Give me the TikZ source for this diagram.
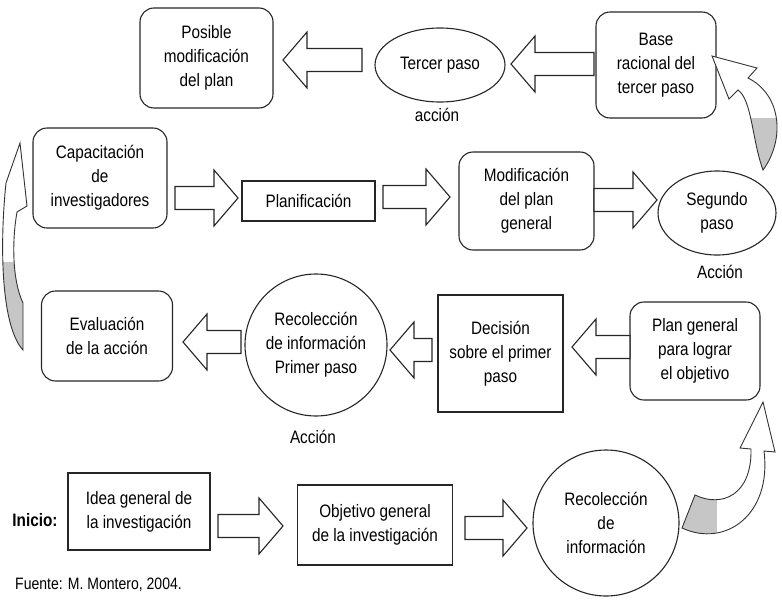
\documentclass[tikz,border=0pt]{standalone}
\usepackage{fontspec}
\setmainfont{Liberation Sans}[FakeStretch=0.85]
\usetikzlibrary{calc,shapes.geometric}
\def\asw{11.5pt}\def\ahw{28pt}\def\ahl{24pt}
\tikzset{
  every node/.style={font=\fontsize{18}{24}\selectfont, align=center, inner sep=2pt},
  rbox/.style={draw=black!85, line width=1.1pt, rounded corners=14pt},
  sbox/.style={draw=black!85, line width=1.1pt},
  ell/.style={draw=black!85, line width=1.1pt, ellipse, inner sep=0pt},
  circ/.style={draw=black!85, line width=1.1pt, circle, inner sep=0pt},
  lbl/.style={inner sep=0pt},
  curved/.style={draw=black!80, line width=0.9pt, line join=miter},
  shadefill/.style={fill=gray!45},
  blockarrow/.style={draw=black!85, line width=1.1pt, fill=white, line join=miter,
    to path={let \p1=(\tikztostart), \p2=(\tikztotarget),
      \n1={veclen(\x2-\x1,\y2-\y1)}, \n2={atan2(\y2-\y1,\x2-\x1)} in
      ($(\p1)+(\n2+90:\asw)$)
      -- ($(\p1)+(\n2:\n1*1pt-\ahl)+(\n2+90:\asw)$)
      -- ($(\p1)+(\n2:\n1*1pt-\ahl)+(\n2+90:\ahw)$)
      -- (\p2)
      -- ($(\p1)+(\n2:\n1*1pt-\ahl)+(\n2-90:\ahw)$)
      -- ($(\p1)+(\n2:\n1*1pt-\ahl)+(\n2-90:\asw)$)
      -- ($(\p1)+(\n2-90:\asw)$) -- cycle}},
}
\def\crA{(763,170) .. controls (785,140) and (782,95) .. (748,78) -- (757,68) -- (712,56)
  -- (729,99) -- (738,90) .. controls (752,100) and (752,140) .. cycle}
\def\crB{(23,303) .. controls (12,280) and (12,240) .. (17,212) -- (27,206) -- (20,143)
  -- (6,183) .. controls (0,240) and (0,325) .. (23,350) -- cycle}
\def\crC{(682,528) .. controls (725,548) and (772,515) .. (764,451) -- (775,452) -- (763,402)
  -- (740,448) -- (751,449) .. controls (752,495) and (722,508) .. (695,495) -- cycle}
\begin{document}
\begin{tikzpicture}[x=1pt,y=-1pt]
\useasboundingbox (0,0) rectangle (782,600);
% row 1
\node[rbox, minimum width=133pt, minimum height=100pt] (pos) at (206.5,58) {Posible\\modificación\\del plan};
\node[ell, minimum width=130pt, minimum height=74pt] (ter) at (440,65) {Tercer paso};
\node[lbl] (acc1) at (437,115) {acción};
\node[rbox, minimum width=120pt, minimum height=106pt] (base) at (656,65) {Base\\racional del\\tercer paso};
% row 2
\node[rbox, minimum width=134pt, minimum height=100pt] (cap) at (100,178) {Capacitación\\de\\investigadores};
\node[sbox, minimum width=133pt, minimum height=40pt] (plan) at (308.5,201) {Planificación};
\node[rbox, minimum width=135pt, minimum height=98pt] (mod) at (526.5,201) {Modificación\\del plan\\general};
\node[ell, minimum width=118pt, minimum height=84pt] (seg) at (717,213) {Segundo\\paso};
\node[lbl] (acc2) at (720,272) {Acción};
% row 3
\node[rbox, minimum width=131pt, minimum height=90pt] (eval) at (107,336) {Evaluación\\de la acción};
\node[circ, minimum size=142pt] (rec1) at (316,345) {Recolección\\de información\\Primer paso};
\node[lbl] (acc3) at (313,437) {Acción};
\node[sbox, minimum width=125pt, minimum height=117pt] (dec) at (500.5,353.5) {Decisión\\sobre el primer\\paso};
\node[rbox, minimum width=130pt, minimum height=98pt] (pg) at (695,351) {Plan general\\para lograr\\el objetivo};
% row 4
\node[lbl, font=\fontsize{18}{24}\selectfont\bfseries] (ini) at (35,520) {Inicio:};
\node[sbox, minimum width=142pt, minimum height=77pt] (idea) at (139,511.5) {Idea general de\\la investigación};
\node[sbox, minimum width=155pt, minimum height=80pt] (obj) at (375,525) {Objetivo general\\de la investigación};
\node[circ, minimum size=146pt] (rec0) at (606,523) {Recolección\\de\\información};
\node[lbl, anchor=west, font=\fontsize{16.5}{20}\selectfont] (src) at (15,585) {Fuente: M. Montero, 2004.};
% block arrow ends
\coordinate (a1s) at (362,60);  \coordinate (a1e) at (283,60);
\coordinate (a2s) at (594,64);  \coordinate (a2e) at (511,64);
\coordinate (a3s) at (175,198); \coordinate (a3e) at (238,198);
\coordinate (a4s) at (383,197); \coordinate (a4e) at (450,197);
\coordinate (a5s) at (594,200); \coordinate (a5e) at (657,200);
\coordinate (a6s) at (241,342); \coordinate (a6e) at (183,342);
\coordinate (a7s) at (432,350); \coordinate (a7e) at (390,350);
\coordinate (a8s) at (630,347); \coordinate (a8e) at (572,347);
\coordinate (a9s) at (218,526); \coordinate (a9e) at (283,526);
\coordinate (a10s) at (465,528); \coordinate (a10e) at (527,528);
\foreach \i in {1,...,10} {\draw[blockarrow] (a\i s) to (a\i e);}
% curved arrows: white body, shaded tail part
\fill[white] \crA;
\begin{scope} \clip \crA; \fill[shadefill] (700,118) rectangle (790,180); \end{scope}
\path[curved] \crA;
\fill[white] \crB;
\begin{scope} \clip \crB; \fill[shadefill] (-5,262) rectangle (40,360); \end{scope}
\path[curved] \crB;
\fill[white] \crC;
\begin{scope} \clip \crC; \fill[shadefill] (670,480) rectangle (717,560); \end{scope}
\path[curved] \crC;
\end{tikzpicture}
\end{document}
